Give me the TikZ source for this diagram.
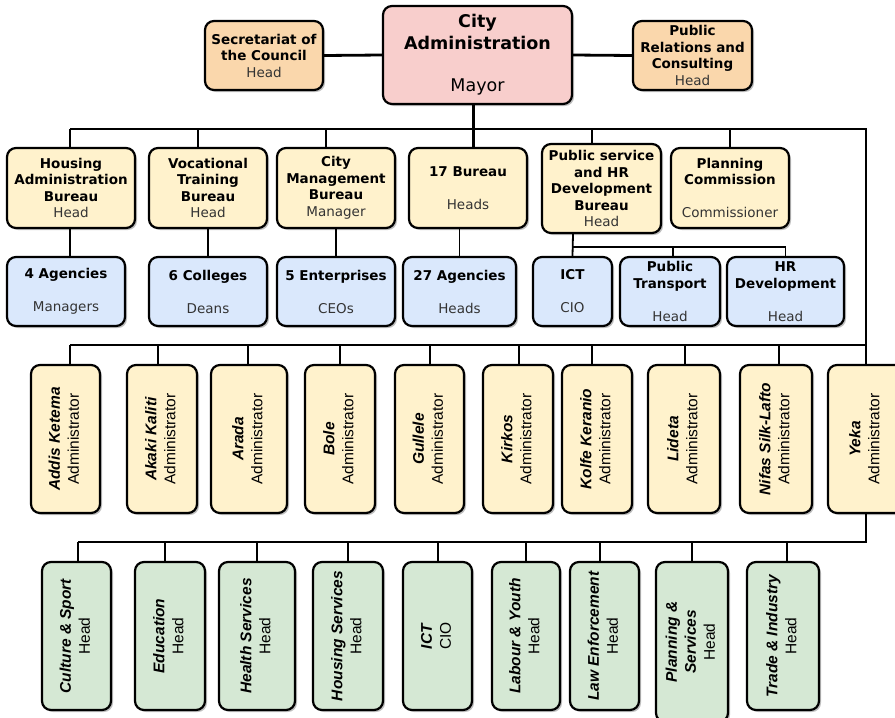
\documentclass[tikz,border=0pt]{standalone}
\usepackage{fontspec}
\usepackage{graphicx}
\usetikzlibrary{shadows}

\newfontfamily\verd{DejaVu Sans}
\newfontfamily\helv{Liberation Sans}

\definecolor{mayorpink}{HTML}{F8CECC}
\definecolor{stafforange}{HTML}{FAD7AC}
\definecolor{bureauyellow}{HTML}{FFF2CC}
\definecolor{agencyblue}{HTML}{DAE8FC}
\definecolor{officegreen}{HTML}{D5E8D4}
\definecolor{subtext}{HTML}{333333}

% vertical (rotated) label: a centred column turned to read bottom-up
\newcommand\vtext[1]{\rotatebox{90}{\begin{tabular}{@{}c@{}}#1\end{tabular}}}
\newcommand\nm[1]{\textbf{\textit{#1}}}
\newcommand\role[1]{\textcolor{subtext}{#1}}

\tikzset{
  orgbox/.style={draw=black, line width=2.2pt, rounded corners=9pt, align=center,
    inner sep=0pt, text=black,
    drop shadow={shadow xshift=2pt, shadow yshift=-2pt, opacity=0.25, fill=black}},
  hbox/.style={orgbox, font={\verd\fontsize{13.5}{16.5}\selectfont}},
  vbox/.style={orgbox, font={\helv\fontsize{15.5}{19}\selectfont}},
  toplink/.style={line width=2.8pt},
  midlink/.style={line width=2.3pt},
  sublink/.style={line width=1.8pt},
}

\begin{document}
\begin{tikzpicture}[x=1pt,y=-1pt]
\useasboundingbox (0,0) rectangle (895,718);
\clip (0,0) rectangle (895,718);

% ---------- top level ----------
\node[orgbox, fill=mayorpink, minimum width=189pt, minimum height=98pt,
      font={\verd\fontsize{17.5}{22}\selectfont}] (ca) at (477.5,55)
  {\textbf{City}\\\textbf{Administration}\\[20pt]Mayor};
\node[hbox, fill=stafforange, minimum width=118pt, minimum height=69pt] (sec) at (264,55.5)
  {\textbf{Secretariat of}\\\textbf{the Council}\\\role{Head}};
\node[hbox, fill=stafforange, minimum width=119pt, minimum height=69pt] (pr) at (692.5,55.5)
  {\textbf{Public}\\\textbf{Relations and}\\\textbf{Consulting}\\\role{Head}};

% ---------- bureaus ----------
\node[hbox, fill=bureauyellow, minimum width=128pt, minimum height=80pt] (hab) at (71,188)
  {\textbf{Housing}\\\textbf{Administration}\\\textbf{Bureau}\\\role{Head}};
\node[hbox, fill=bureauyellow, minimum width=118pt, minimum height=80pt] (vtb) at (208,188)
  {\textbf{Vocational}\\\textbf{Training}\\\textbf{Bureau}\\\role{Head}};
\node[hbox, fill=bureauyellow, minimum width=118pt, minimum height=80pt] (cmb) at (336,188)
  {\textbf{City}\\\textbf{Management}\\\textbf{Bureau}\\\role{Manager}};
\node[hbox, fill=bureauyellow, minimum width=118pt, minimum height=80pt] (b17) at (468,188)
  {\textbf{17 Bureau}\\[16.5pt]\role{Heads}};
\node[hbox, fill=bureauyellow, minimum width=119pt, minimum height=89pt] (psb) at (601.5,188.5)
  {\textbf{Public service}\\\textbf{and HR}\\\textbf{Development}\\\textbf{Bureau}\\\role{Head}};
\node[hbox, fill=bureauyellow, minimum width=118pt, minimum height=80pt] (plc) at (730,188)
  {\textbf{Planning}\\\textbf{Commission}\\[16.5pt]\role{Commissioner}};

% ---------- agencies ----------
\node[hbox, fill=agencyblue, minimum width=118pt, minimum height=69pt] (ag4) at (66,291.5)
  {\textbf{4 Agencies}\\[16.5pt]\role{Managers}};
\node[hbox, fill=agencyblue, minimum width=118pt, minimum height=69pt] (col6) at (208,291.5)
  {\textbf{6 Colleges}\\[16.5pt]\role{Deans}};
\node[hbox, fill=agencyblue, minimum width=118pt, minimum height=69pt] (ent5) at (336,291.5)
  {\textbf{5 Enterprises}\\[16.5pt]\role{CEOs}};
\node[hbox, fill=agencyblue, minimum width=113pt, minimum height=69pt] (ag27) at (459.5,291.5)
  {\textbf{27 Agencies}\\[16.5pt]\role{Heads}};
\node[hbox, fill=agencyblue, minimum width=79pt, minimum height=69pt] (ict) at (572.5,291.5)
  {\textbf{ICT}\\[16.5pt]\role{CIO}};
\node[hbox, fill=agencyblue, minimum width=100pt, minimum height=69pt] (pt) at (670,291.5)
  {\textbf{Public}\\\textbf{Transport}\\[16.5pt]\role{Head}};
\node[hbox, fill=agencyblue, minimum width=117pt, minimum height=69pt] (hrd) at (785.5,291.5)
  {\textbf{HR}\\\textbf{Development}\\[16.5pt]\role{Head}};

% ---------- sub-cities ----------
\node[vbox, fill=bureauyellow, minimum width=69pt, minimum height=148pt] (addis) at (65.5,439)
  {\vtext{\nm{Addis Ketema}\\Administrator}};
\node[vbox, fill=bureauyellow, minimum width=70pt, minimum height=148pt] (akaki) at (162,439)
  {\vtext{\nm{Akaki Kaliti}\\Administrator}};
\node[vbox, fill=bureauyellow, minimum width=76pt, minimum height=148pt] (arada) at (249,439)
  {\vtext{\nm{Arada}\\Administrator}};
\node[vbox, fill=bureauyellow, minimum width=70pt, minimum height=148pt] (bole) at (340,439)
  {\vtext{\nm{Bole}\\Administrator}};
\node[vbox, fill=bureauyellow, minimum width=69pt, minimum height=148pt] (gullele) at (429.5,439)
  {\vtext{\nm{Gullele}\\Administrator}};
\node[vbox, fill=bureauyellow, minimum width=70pt, minimum height=148pt] (kirkos) at (518,439)
  {\vtext{\nm{Kirkos}\\Administrator}};
\node[vbox, fill=bureauyellow, minimum width=70pt, minimum height=148pt] (kolfe) at (597,439)
  {\vtext{\nm{Kolfe Keranio}\\Administrator}};
\node[vbox, fill=bureauyellow, minimum width=72pt, minimum height=148pt] (lideta) at (684,439)
  {\vtext{\nm{Lideta}\\Administrator}};
\node[vbox, fill=bureauyellow, minimum width=72pt, minimum height=148pt] (nifas) at (776,439)
  {\vtext{\nm{Nifas Silk-Lafto}\\Administrator}};
\node[vbox, fill=bureauyellow, minimum width=76pt, minimum height=148pt] (yeka) at (866,439)
  {\vtext{\nm{Yeka}\\Administrator}};

% ---------- sub-city offices ----------
\node[vbox, fill=officegreen, minimum width=69pt, minimum height=148pt] (culture) at (76.5,636)
  {\vtext{\nm{Culture \& Sport}\\Head}};
\node[vbox, fill=officegreen, minimum width=70pt, minimum height=148pt] (educ) at (170,636)
  {\vtext{\nm{Education}\\Head}};
\node[vbox, fill=officegreen, minimum width=76pt, minimum height=148pt] (health) at (257,636)
  {\vtext{\nm{Health Services}\\Head}};
\node[vbox, fill=officegreen, minimum width=70pt, minimum height=148pt] (housing) at (348,636)
  {\vtext{\nm{Housing Services}\\Head}};
\node[vbox, fill=officegreen, minimum width=69pt, minimum height=148pt] (ictoff) at (437.5,636)
  {\vtext{\nm{ICT}\\CIO}};
\node[vbox, fill=officegreen, minimum width=68pt, minimum height=148pt] (labour) at (526,636)
  {\vtext{\nm{Labour \& Youth}\\Head}};
\node[vbox, fill=officegreen, minimum width=69pt, minimum height=148pt] (law) at (604.5,636)
  {\vtext{\nm{Law Enforcement}\\Head}};
\node[vbox, fill=officegreen, minimum width=72pt, minimum height=160pt] (plan) at (692,642)
  {\vtext{\nm{Planning \&}\\\nm{Services}\\Head}};
\node[vbox, fill=officegreen, minimum width=72pt, minimum height=148pt] (trade) at (783,636)
  {\vtext{\nm{Trade \& Industry}\\Head}};

% ---------- connectors ----------
\draw[toplink] (sec.east) -- (ca.west);
\draw[toplink] (ca.east) -- (pr.west);

\coordinate (busL) at (70,129);
\coordinate (busR) at (866,129);
\draw[toplink] (busL) -- (busR) -- (yeka.north);
\draw[toplink] ([xshift=5.5pt]b17.north) -- ([xshift=5.5pt]b17.north |- ca.south);
\foreach \n/\dx in {hab/-1, vtb/-10, cmb/-10, psb/-9.5, plc/0}
  \draw[toplink] ([xshift=\dx pt]\n.north) -- ([xshift=\dx pt]\n.north |- busL);

\draw[sublink] ([xshift=-1pt]hab.south) -- ([xshift=-1pt]hab.south |- ag4.north);
\draw[sublink] (vtb.south) -- (col6.north);
\draw[sublink] (cmb.south) -- (ent5.north);
\draw[sublink] (ag27.north) -- (ag27.north |- b17.south);

\coordinate (psfork) at (573,247);
\draw[sublink] (psfork |- psb.south) -- (ict.north);
\draw[sublink] (psfork) -- (psfork -| hrd.north) -- (hrd.north);
\draw[sublink] ([xshift=3pt]pt.north) -- ([xshift=3pt]pt.north |- psfork);

\coordinate (admL) at (70,345);
\draw[midlink] (admL) -- (admL -| busR);
\foreach \n/\dx in {addis/4.5, akaki/-4, arada/-1, bole/0, gullele/0.5, kirkos/1, kolfe/-5, lideta/1, nifas/3}
  \draw[midlink] ([xshift=\dx pt]\n.north) -- ([xshift=\dx pt]\n.north |- admL);

\coordinate (offL) at (78,542);
\draw[sublink] (yeka.south) -- (yeka.south |- offL) -- (offL);
\foreach \n/\dx in {culture/1.5, educ/-5, health/0, housing/0, ictoff/0.5, labour/0, law/-4.5, plan/0, trade/4}
  \draw[sublink] ([xshift=\dx pt]\n.north) -- ([xshift=\dx pt]\n.north |- offL);

\end{tikzpicture}
\end{document}
